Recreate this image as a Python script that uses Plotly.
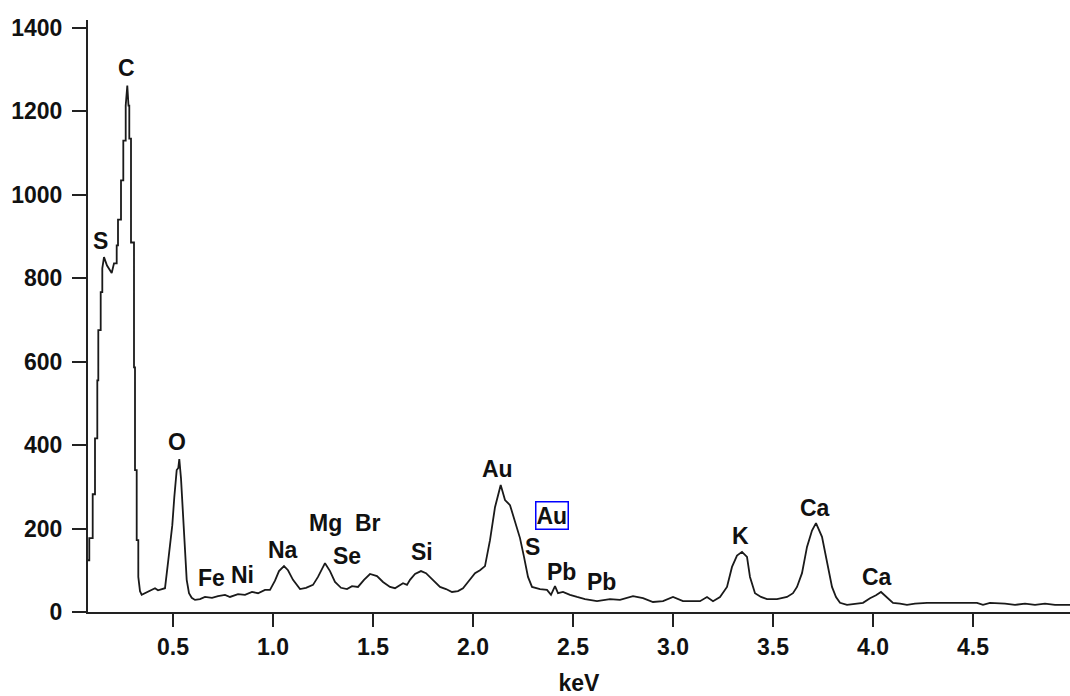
import plotly.graph_objects as go

# Spectrum (keV, counts)
kev = [0.075, 0.0815, 0.0815, 0.0985, 0.0985, 0.11, 0.11, 0.1215, 0.1215, 0.1265, 0.1265,
       0.1385, 0.1385, 0.1465, 0.1465, 0.155, 0.17, 0.1935, 0.205, 0.2185, 0.2185, 0.225, 0.225,
       0.24, 0.24, 0.2515, 0.2515, 0.2635, 0.2635, 0.2715, 0.2775, 0.2815, 0.2815, 0.29, 0.29,
       0.305, 0.305, 0.31, 0.31, 0.3185, 0.3185, 0.3265, 0.3265, 0.335, 0.3435, 0.36, 0.375,
       0.395, 0.41, 0.425, 0.45, 0.46, 0.4765, 0.4965, 0.5065, 0.5185, 0.5265, 0.5315, 0.54,
       0.5515, 0.56, 0.5685, 0.58, 0.5935, 0.61, 0.635, 0.66, 0.695, 0.725, 0.76, 0.785, 0.825,
       0.86, 0.895, 0.925, 0.96, 0.985, 1.01, 1.03, 1.055, 1.075, 1.1, 1.135, 1.165, 1.2, 1.225,
       1.26, 1.285, 1.31, 1.34, 1.37, 1.395, 1.425, 1.455, 1.485, 1.52, 1.55, 1.585, 1.61, 1.635,
       1.65, 1.67, 1.685, 1.71, 1.74, 1.765, 1.785, 1.81, 1.835, 1.865, 1.895, 1.925, 1.95, 1.975,
       2.01, 2.035, 2.06, 2.085, 2.11, 2.1385, 2.16, 2.185, 2.21, 2.235, 2.255, 2.275, 2.295,
       2.335, 2.37, 2.39, 2.41, 2.425, 2.45, 2.485, 2.52, 2.56, 2.62, 2.685, 2.735, 2.8, 2.85,
       2.9, 2.95, 3.0, 3.05, 3.135, 3.17, 3.2, 3.235, 3.27, 3.295, 3.32, 3.345, 3.37, 3.385,
       3.41, 3.44, 3.47, 3.52, 3.57, 3.6, 3.62, 3.645, 3.67, 3.695, 3.715, 3.745, 3.77, 3.795,
       3.815, 3.835, 3.87, 3.91, 3.95, 3.985, 4.015, 4.04, 4.07, 4.1, 4.135, 4.17, 4.21, 4.27,
       4.385, 4.52, 4.55, 4.585, 4.66, 4.71, 4.76, 4.81, 4.86, 4.91, 4.985]
counts = [124, 124, 177, 177, 282, 282, 416, 416, 555, 555, 675,
          675, 766, 766, 823, 850, 830, 812, 835, 835, 878, 878, 940,
          940, 1034, 1034, 1129, 1129, 1213, 1261, 1213, 1213, 1134, 1134, 885,
          885, 586, 586, 340, 340, 172, 172, 84, 50, 41, 45, 47,
          52, 57, 52, 55, 57, 124, 208, 275, 340, 345, 366, 320,
          220, 140, 77, 45, 34, 29, 31, 36, 34, 38, 41, 36, 43,
          41, 48, 45, 53, 53, 75, 98, 110, 100, 77, 55, 58, 65, 84,
          117, 98, 72, 58, 55, 62, 60, 77, 91, 86, 72, 60, 57, 65,
          69, 65, 77, 91, 98, 93, 84, 72, 60, 55, 48, 50, 57, 72,
          93, 100, 110, 172, 251, 304, 268, 256, 215, 177, 132, 84, 60,
          55, 53, 41, 62, 45, 48, 41, 36, 31, 26, 31, 29, 38, 33,
          24, 26, 36, 26, 26, 36, 26, 36, 60, 108, 135, 144, 132, 84,
          45, 36, 31, 31, 36, 45, 60, 93, 156, 195, 213, 180, 117, 60,
          36, 22, 17, 20, 22, 33, 40, 48, 36, 22, 20, 17, 20, 22,
          22, 22, 17, 22, 20, 17, 20, 17, 20, 17, 17]

# Peak labels
label_text = ["C", "S", "O", "Fe", "Ni", "Na", "Mg", "Se", "Br", "Si", "Au", "Au", "S",
              "Pb", "Pb", "K", "Ca", "Ca"]
label_kev = [0.265, 0.135, 0.52, 0.69, 0.845, 1.05, 1.26, 1.37, 1.475, 1.745, 2.12, 2.395,
             2.295, 2.44, 2.64, 3.335, 3.71, 4.02]
label_counts = [1302, 888, 407, 81, 89, 148, 213, 134, 213, 144, 342, 232, 156, 96, 72,
                182, 249, 84]
boxed = [False] * 11 + [True] + [False] * 6

x_ticks = [0.5, 1.0, 1.5, 2.0, 2.5, 3.0, 3.5, 4.0, 4.5]
x_tick_text = ["0.5", "1.0", "1.5", "2.0", "2.5", "3.0", "3.5", "4.0", "4.5"]
y_ticks = [0, 200, 400, 600, 800, 1000, 1200, 1400]

FONT = "Liberation Sans"

fig = go.Figure()
fig.add_trace(go.Scatter(x=kev, y=counts, mode="lines",
                         line=dict(color="#1a1a1a", width=1.8), hoverinfo="skip"))

annotations = []
for t, xk, yc, b in zip(label_text, label_kev, label_counts, boxed):
    a = dict(x=xk, y=yc, xref="x", yref="y", text="<b>%s</b>" % t, showarrow=False,
             font=dict(family=FONT, size=23, color="#111"))
    if b:
        a.update(bordercolor="#0000ff", borderwidth=1.5, borderpad=0)
    annotations.append(a)

tick_font = dict(family=FONT, size=23, color="#111", weight="bold")

fig.update_layout(
    width=1070, height=696,
    margin=dict(l=88, r=0, t=20, b=84, autoexpand=False),
    paper_bgcolor="white", plot_bgcolor="white",
    showlegend=False,
    annotations=annotations,
    font=dict(family=FONT, color="black"),
)
fig.update_xaxes(range=[0.075, 4.985], tickvals=x_ticks, ticktext=x_tick_text,
                 ticks="outside", ticklen=13, tickwidth=2, tickcolor="#222",
                 showline=True, linecolor="#222", linewidth=2, showgrid=False, zeroline=False,
                 tickfont=tick_font, automargin=False,
                 title=dict(text="<b>keV</b>", font=dict(family=FONT, size=23, color="#111"),
                            standoff=17))
fig.update_yaxes(range=[0, 1418], tickvals=y_ticks,
                 ticks="outside", ticklen=14, tickwidth=2, tickcolor="#222",
                 showline=True, linecolor="#222", linewidth=2, showgrid=False, zeroline=False,
                 tickfont=tick_font, ticklabelstandoff=5, automargin=False)

fig.write_html("out.html", config={"displayModeBar": False},
               post_script="document.body.style.margin='0px';")
